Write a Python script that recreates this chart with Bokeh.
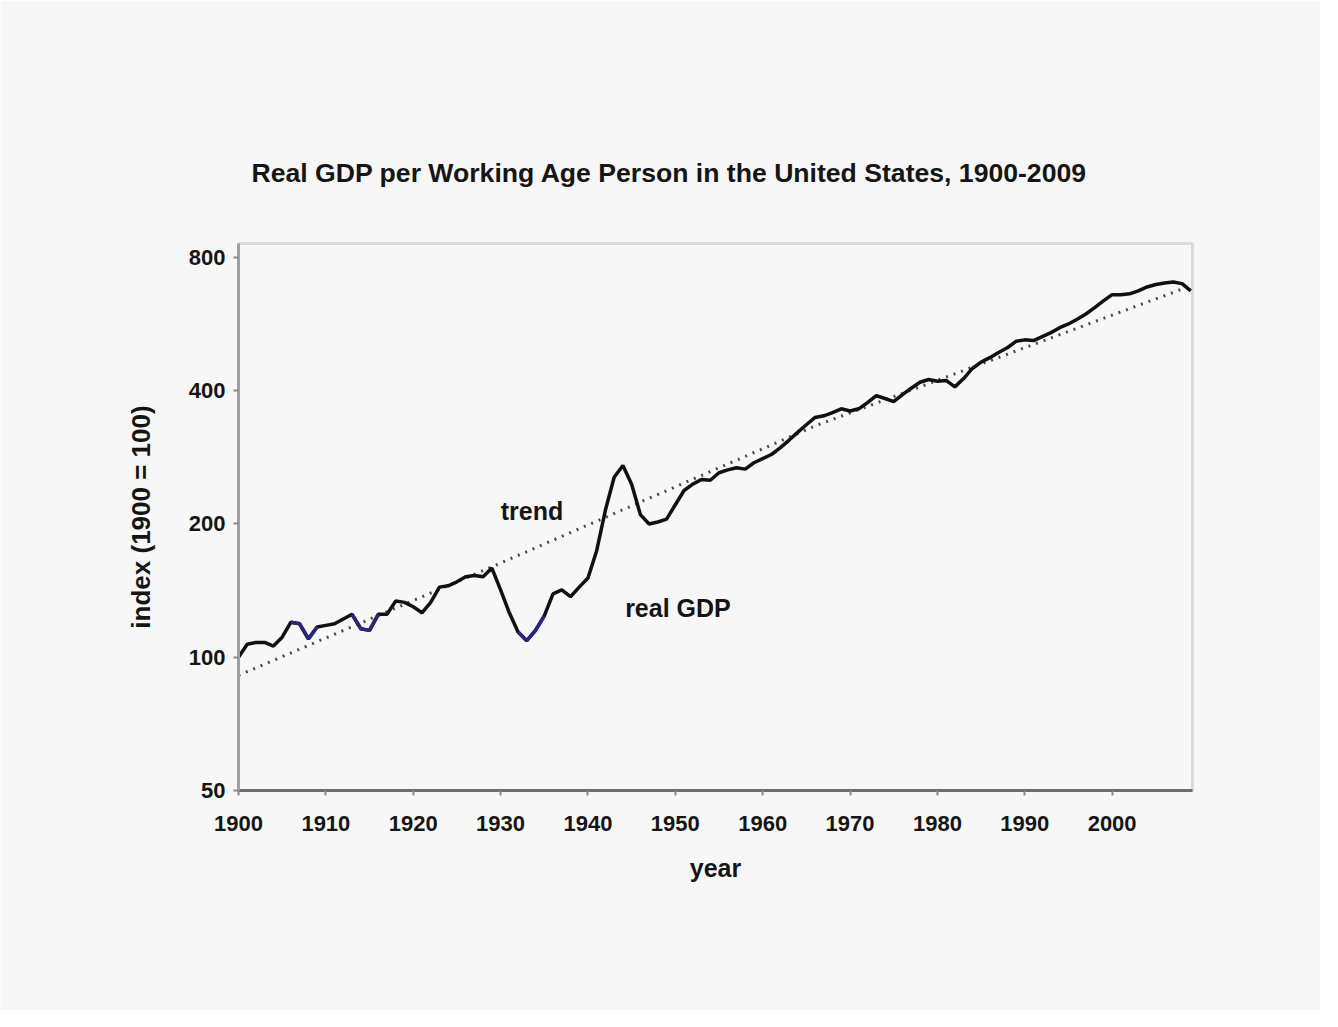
from bokeh.plotting import figure
from bokeh.models import FixedTicker, Label, Range1d, PrintfTickFormatter
from bokeh.embed import file_html
from bokeh.resources import INLINE

# ---- data ----
years = list(range(1900, 2010))
real_gdp = [
    100, 107, 108, 108, 106, 111, 120, 119, 110, 117,   # 1900-1909
    118, 119, 122, 125, 116, 115, 125, 125, 134, 133,   # 1910-1919
    130, 126, 133, 144, 145, 148, 152, 153, 152, 159,   # 1920-1929
    142, 126, 114, 109, 115, 124, 139, 142, 137, 144,   # 1930-1939
    151, 174, 215, 255, 271, 246, 210, 200, 202, 205,   # 1940-1949
    221, 238, 246, 252, 251, 261, 265, 268, 266, 275,   # 1950-1959
    281, 287, 297, 309, 322, 335, 348, 351, 357, 364,   # 1960-1969
    360, 364, 376, 390, 384, 378, 392, 405, 418, 424,   # 1970-1979
    420, 422, 408, 426, 449, 464, 475, 488, 500, 517,   # 1980-1989
    521, 519, 530, 541, 555, 566, 580, 596, 616, 638,   # 1990-1999
    659, 659, 662, 672, 686, 695, 700, 704, 698, 672,   # 2000-2009
]
trend_years = [1900, 1929, 1966, 2009]
trend_values = [91, 160, 333, 690]
recession_spans = [(1906, 1909), (1913, 1916), (1932, 1935)]

x_ticks = list(range(1900, 2001, 10))
y_ticks = [50, 100, 200, 400, 800]

title_text = "Real GDP per Working Age Person in the United States, 1900-2009"
x_title = "year"
y_title = "index (1900 = 100)"
trend_label = "trend"
gdp_label = "real GDP"

# ---- styling ----
BG = "#f7f7f7"
FONT = "Liberation Sans"
TXT = "#151515"

p = figure(
    width=1320, height=1010,
    output_backend="svg", toolbar_location=None,
    y_axis_type="log",
    x_range=Range1d(1900, 2009.2), y_range=Range1d(50, 860),
    min_border_left=238, min_border_right=128,
    min_border_top=243, min_border_bottom=220,
    background_fill_color=BG, border_fill_color=BG,
    outline_line_color="#dadada", outline_line_width=3,
    title=title_text,
)

p.title.text_font = FONT
p.title.text_font_size = "26.6px"
p.title.text_font_style = "bold"
p.title.text_color = TXT
p.title.align = "left"
p.title.offset = 13
p.title.standoff = 111

p.xgrid.grid_line_color = None
p.ygrid.grid_line_color = None

p.xaxis.ticker = FixedTicker(ticks=x_ticks)
p.yaxis.ticker = FixedTicker(ticks=y_ticks)
p.yaxis.formatter = PrintfTickFormatter(format="%d")

for ax in (p.xaxis, p.yaxis):
    ax.major_label_text_font = FONT
    ax.major_label_text_font_size = "22px"
    ax.major_label_text_font_style = "bold"
    ax.major_label_text_color = TXT
    ax.axis_label_text_font = FONT
    ax.axis_label_text_font_style = "bold"
    ax.axis_label_text_color = TXT
    ax.axis_line_width = 3
    ax.major_tick_in = 0
    ax.major_tick_out = 5
    ax.major_tick_line_width = 2
    ax.minor_tick_line_color = None

p.xaxis.axis_label = x_title
p.xaxis.axis_label_text_font_size = "25px"
p.xaxis.axis_label_standoff = 20
p.xaxis.axis_line_color = "#6e6e6e"
p.xaxis.major_tick_line_color = "#8a8a8a"
p.xaxis.major_label_standoff = 20

p.yaxis.axis_label = y_title
p.yaxis.axis_label_text_font_size = "26px"
p.yaxis.axis_label_standoff = 30
p.yaxis.axis_line_color = "#a0a0a0"
p.yaxis.major_tick_line_color = "#8a8a8a"
p.yaxis.major_label_standoff = 8

# trend line (dotted)
p.line(trend_years, trend_values, line_color="#4a4a4a", line_width=3,
       line_dash="2 6")

# real GDP line
p.line(years, real_gdp, line_color="#111111", line_width=3.5)

# recession segments in dark blue
for a, b in recession_spans:
    i0, i1 = years.index(a), years.index(b)
    p.line(years[i0:i1 + 1], real_gdp[i0:i1 + 1], line_color="#27277e",
           line_width=3.5)

p.add_layout(Label(x=1933.6, y=214, text=trend_label, text_align="center",
                   text_baseline="middle", text_font=FONT, text_font_size="25px",
                   text_font_style="bold", text_color=TXT))
p.add_layout(Label(x=1950.3, y=129, text=gdp_label, text_align="center",
                   text_baseline="middle", text_font=FONT, text_font_size="25px",
                   text_font_style="bold", text_color=TXT))

open("out.html", "w").write(file_html(p, INLINE))
